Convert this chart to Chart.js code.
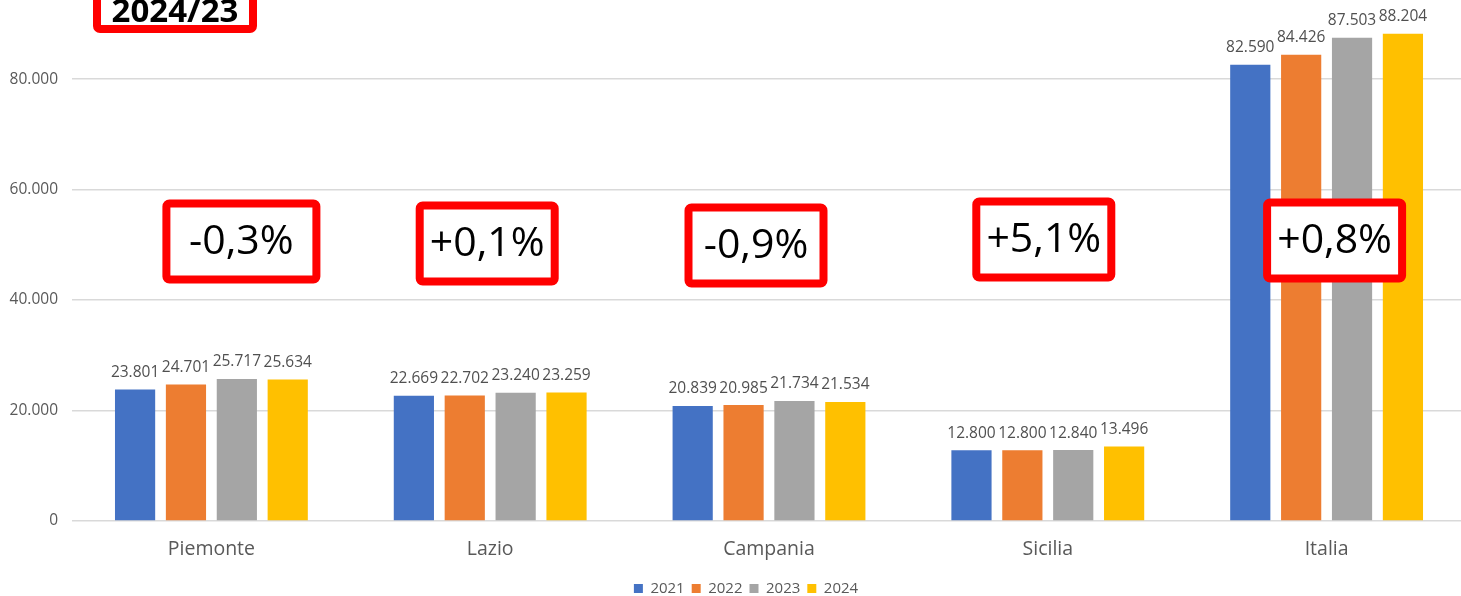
<!DOCTYPE html>
<html lang="it">
<head>
    <meta charset="UTF-8">
    <title>Confronto regioni 2021-2024</title>
    <script src="https://cdn.jsdelivr.net/npm/chart.js"></script>
    <style>
        html, body { margin: 0; padding: 0; background: #ffffff; overflow: hidden; }
        canvas { display: block; }
    </style>
</head>
<body>
    <canvas id="grafico" width="1466" height="596"></canvas>

    <script>
        // Dati
        const regioni = ['Piemonte', 'Lazio', 'Campania', 'Sicilia', 'Italia'];
        const anni = ['2021', '2022', '2023', '2024'];
        const valori2021 = [23801, 22669, 20839, 12800, 82590];
        const valori2022 = [24701, 22702, 20985, 12800, 84426];
        const valori2023 = [25717, 23240, 21734, 12840, 87503];
        const valori2024 = [25634, 23259, 21534, 13496, 88204];
        const tickY = [0, 20000, 40000, 60000, 80000];
        const variazioni = ['-0,3%', '+0,1%', '-0,9%', '+5,1%', '+0,8%'];
        const titoloBox = '2024/23';

        const colori = ['#4472C4', '#ED7D31', '#A5A5A5', '#FFC000'];
        const FONT = "'Open Sans', 'Noto Sans', sans-serif";

        // scostamenti dei riquadri rossi rispetto al centro della categoria
        const boxDx = [30, -3, -13, -4, 8];
        const boxDy = [0, 2, 4, -2, -1];
        const boxW = [158, 143, 143, 143, 143];

        // formato italiano con punto per le migliaia
        function formatta(n) {
            return String(Math.round(n)).replace(/\B(?=(\d{3})+(?!\d))/g, '.');
        }

        function disegnaBox(ctx, x, y, w, h, testo, font) {
            ctx.save();
            ctx.lineWidth = 8;
            ctx.strokeStyle = '#FF0000';
            ctx.fillStyle = '#FFFFFF';
            ctx.beginPath();
            ctx.roundRect(x + 4, y + 4, w - 8, h - 8, 3);
            ctx.fill();
            ctx.stroke();
            ctx.fillStyle = '#000000';
            ctx.font = font;
            ctx.textAlign = 'center';
            ctx.textBaseline = 'middle';
            ctx.fillText(testo, x + w / 2, y + h / 2 + 1);
            ctx.restore();
        }

        // etichette dei valori sopra le barre
        const etichette = {
            id: 'etichette',
            afterDatasetsDraw(chart) {
                const ctx = chart.ctx;
                ctx.save();
                ctx.font = '15.5px ' + FONT;
                ctx.fillStyle = '#505050';
                ctx.textAlign = 'center';
                ctx.textBaseline = 'middle';
                chart.data.datasets.forEach((ds, i) => {
                    chart.getDatasetMeta(i).data.forEach((bar, j) => {
                        ctx.fillText(formatta(ds.data[j]), bar.x, bar.y - 17);
                    });
                });
                ctx.restore();
            }
        };

        // riquadri rossi con le variazioni
        const riquadri = {
            id: 'riquadri',
            afterDraw(chart) {
                const ctx = chart.ctx;
                const xs = chart.scales.x;
                const ys = chart.scales.y;
                const yc = ys.getPixelForValue(50600);
                variazioni.forEach((v, i) => {
                    const cx = xs.getPixelForValue(i) + boxDx[i];
                    const h = 84;
                    disegnaBox(ctx, cx - boxW[i] / 2, yc + boxDy[i] - h / 2, boxW[i], h, v, '41px ' + FONT);
                });
                disegnaBox(ctx, 93, -9, 164, 42, titoloBox, 'bold 33px ' + FONT);
            }
        };

        // sposta la legenda verso destra come nell'originale
        const spostaLegenda = {
            id: 'spostaLegenda',
            beforeDraw(chart) {
                const lg = chart.legend;
                if (!lg || lg._spostata) return;
                lg.left += 13;
                lg.right += 13;
                (lg.legendHitBoxes || []).forEach(b => { b.left += 13; });
                lg._spostata = true;
            }
        };

        const serie = [valori2021, valori2022, valori2023, valori2024];

        new Chart(document.getElementById('grafico'), {
            type: 'bar',
            data: {
                labels: regioni,
                datasets: anni.map((a, i) => ({
                    label: a,
                    data: serie[i],
                    backgroundColor: colori[i],
                    categoryPercentage: 0.73,
                    barPercentage: 0.79
                }))
            },
            options: {
                responsive: false,
                animation: false,
                devicePixelRatio: 1,
                layout: { padding: { top: 0, right: 0, bottom: -10, left: 0 } },
                scales: {
                    x: {
                        grid: { display: false },
                        border: { display: false },
                        afterFit(scale) { scale.height = 53; },
                        ticks: { font: { family: FONT, size: 19.5 }, color: '#595959', padding: 9, maxRotation: 0 }
                    },
                    y: {
                        min: 0,
                        max: 94330,
                        afterBuildTicks(scale) {
                            scale.ticks = tickY.map(v => ({ value: v }));
                        },
                        afterFit(scale) {
                            scale.width = 72;
                            scale.paddingTop = 0;
                            scale.paddingBottom = 0;
                        },
                        ticks: {
                            font: { family: FONT, size: 15.5 },
                            color: '#595959',
                            padding: 14,
                            callback: v => formatta(v)
                        },
                        grid: { color: '#D9D9D9', lineWidth: 1.5, drawTicks: false },
                        border: { display: false }
                    }
                },
                plugins: {
                    legend: {
                        position: 'bottom',
                        labels: {
                            boxWidth: 9,
                            boxHeight: 9,
                            padding: 7,
                            font: { family: FONT, size: 15 },
                            color: '#595959'
                        }
                    },
                    tooltip: { enabled: false }
                }
            },
            plugins: [etichette, riquadri, spostaLegenda]
        });
    </script>
</body>
</html>
